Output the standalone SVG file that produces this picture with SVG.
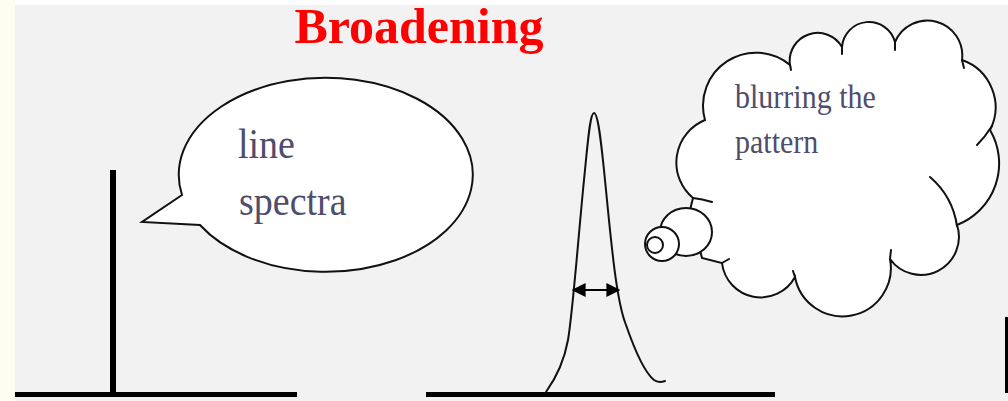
<svg xmlns="http://www.w3.org/2000/svg" width="1008" height="401" viewBox="0 0 1008 401">
  <style>
    .ink { fill: none; stroke: #111; stroke-width: 2; stroke-linecap: round; stroke-linejoin: round; }
    .shape { fill: #ffffff; stroke: #111; stroke-width: 2; }
    .bar { fill: #000; }
    .hand { font-family: "Liberation Serif", "Times New Roman", serif; fill: #4f4d6d; }
    .title { font-family: "Liberation Serif", "Times New Roman", serif; font-weight: bold; fill: #ff0000; font-size: 50px; }
  </style>
  <defs>
    <marker id="arrowhead" viewBox="0 0 10 10" refX="9" refY="5" markerWidth="7" markerHeight="7" orient="auto-start-reverse" markerUnits="strokeWidth">
      <path d="M0,0 L10,5 L0,10 Z" fill="#000"/>
    </marker>
  </defs>

  <!-- background -->
  <rect x="0" y="0" width="1008" height="401" fill="#fdfdf2"/>
  <rect x="15" y="0" width="993" height="5" fill="#ffffff"/>
  <rect x="15" y="5" width="993" height="396" fill="#f2f2f2"/>

  <g id="title">
    <text class="title" x="419" y="43" text-anchor="middle">Broadening</text>
  </g>

  <g id="line-spectrum">
    <rect class="bar" x="110" y="170" width="6" height="224"/>
    <rect class="bar" x="15" y="392" width="282" height="5"/>
  </g>

  <g id="speech-bubble">
    <path class="shape" d="M182,195 L142,222 L200,225 A147,97 0 1 0 182,195 Z"/>
    <text class="hand" font-size="38" transform="translate(238,158) scale(1,1.12)">line</text>
    <text class="hand" font-size="38" transform="translate(239,215) scale(1,1.12)">spectra</text>
  </g>

  <g id="broadened-peak">
    <rect class="bar" x="426" y="392" width="349" height="5"/>
    <path class="ink" d="M546,392 C556,378 564,362 568,340 C573,310 578,240 584,180 C588,140 590,113 594,113 C598,113 601,140 605,180 C611,240 616,300 626,325 C634,348 644,372 654,380 C658,383 662,382 665,381"/>
  </g>

  <g id="thought-cloud">
    <path class="shape" d="M693,198 A46,46 0 0 1 705,120 A53,53 0 0 1 790,65 A28,28 0 0 1 842,47 A27,27 0 0 1 895,42 A35,35 0 0 1 962,60 A50,50 0 0 1 990,130 A66,66 0 0 1 957,225 A38,38 0 0 1 890,259 A48,48 0 0 1 795,277 A39,39 0 0 1 722,263 L702,258 L690,210 Z"/>
    <path class="ink" d="M930,177 A80,80 0 0 1 957,226"/>
    <path class="ink" d="M693,198 Q702,199 712,202 M790,65 L791,70 M842,47 L842,54 M895,42 L895,50 M962,60 L964,68 M992,126 Q985,137 977,145 M890,259 L891,250 M795,277 L793,271 M722,263 L729,259"/>
    <ellipse class="shape" cx="686" cy="232" rx="26" ry="24"/>
    <circle class="shape" cx="662" cy="244" r="17"/>
    <circle class="shape" cx="655" cy="245" r="8"/>
    <text class="hand" font-size="30" transform="translate(735,108) scale(1,1.12)">blurring the</text>
    <text class="hand" font-size="30" transform="translate(735,153) scale(1,1.12)">pattern</text>
  </g>

  <g id="right-edge">
    <rect class="bar" x="1005" y="317" width="3" height="76"/>
  </g>

  <g id="connectors">
    <line x1="573" y1="290" x2="619" y2="290" stroke="#000" stroke-width="2" marker-start="url(#arrowhead)" marker-end="url(#arrowhead)"/>
  </g>
</svg>
